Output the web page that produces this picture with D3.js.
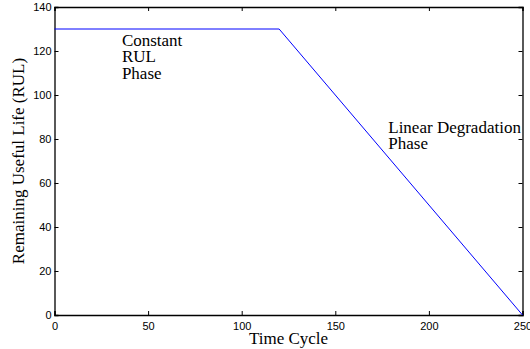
<!DOCTYPE html>
<html>
<head>
<meta charset="utf-8">
<script src="https://cdn.jsdelivr.net/npm/d3@7"></script>
<style>
  body { margin: 0; background: #fff; }
  .tick text { font-family: "Liberation Sans", Arial, sans-serif; font-size: 11px; }
  .lbl { font-family: "Liberation Serif", "Times New Roman", serif; font-size: 17px; fill: #000; }
</style>
</head>
<body>
<div id="chart"></div>
<script>
// piecewise RUL target: constant, then linear degradation
const cycles = [0, 120, 250];
const rulValues = [130, 130, 0];

const xTicks = [0, 50, 100, 150, 200, 250];
const yTicks = [0, 20, 40, 60, 80, 100, 120, 140];

// annotation text, anchored in data coords (cycle, RUL)
const noteConstant = { x: 36, y: [122.4, 115, 107.3], lines: ['Constant', 'RUL', 'Phase'] };
const noteLinear = { x: 178.3, y: [82.7, 75.6], lines: ['Linear Degradation', 'Phase'] };

const W = 530, H = 349;
const margin = { LEFT: 54.5, RIGHT: 7.5, TOP: 7, BOTTOM: 34 };
const WIDTH = W - margin.LEFT - margin.RIGHT;
const HEIGHT = H - margin.TOP - margin.BOTTOM;

const svg = d3.select('#chart').append('svg')
  .attr('width', W)
  .attr('height', H);

const g = svg.append('g')
  .attr('transform', `translate(${margin.LEFT}, ${margin.TOP})`);

const x = d3.scaleLinear().domain([0, 250]).range([0, WIDTH]);
const y = d3.scaleLinear().domain([0, 140]).range([HEIGHT, 0]);

// matlab style: ticks point inward, mirrored on top/right
const xAxis = g.append('g').attr('transform', `translate(0, ${HEIGHT})`)
  .call(d3.axisBottom(x).tickValues(xTicks).tickSize(-4).tickPadding(7));
const yAxis = g.append('g')
  .call(d3.axisLeft(y).tickValues(yTicks).tickSize(-4).tickPadding(3));
g.append('g')
  .call(d3.axisTop(x).tickValues(xTicks).tickSize(-4).tickFormat(''));
g.append('g').attr('transform', `translate(${WIDTH}, 0)`)
  .call(d3.axisRight(y).tickValues(yTicks).tickSize(-4).tickFormat(''));

g.selectAll('.domain').attr('stroke', '#000').attr('stroke-width', 1.3);
g.selectAll('.tick line').attr('stroke', '#000');
g.selectAll('.tick text').attr('fill', '#000');

const line = d3.line()
  .x((d, i) => x(cycles[i]))
  .y(d => y(d));

g.append('path')
  .attr('d', line(rulValues))
  .attr('fill', 'none')
  .attr('stroke', '#0000ff')
  .attr('stroke-width', 1);

[noteConstant, noteLinear].forEach(n => {
  n.lines.forEach((t, i) => {
    g.append('text')
      .attr('class', 'lbl')
      .attr('x', x(n.x))
      .attr('y', y(n.y[i]))
      .text(t);
  });
});

// axis labels
svg.append('text')
  .attr('class', 'lbl')
  .attr('text-anchor', 'middle')
  .attr('x', margin.LEFT + WIDTH / 2)
  .attr('y', 344)
  .text('Time Cycle');

svg.append('text')
  .attr('class', 'lbl')
  .attr('text-anchor', 'middle')
  .attr('transform', `translate(24, ${margin.TOP + HEIGHT / 2}) rotate(-90)`)
  .text('Remaining Useful Life (RUL)');
</script>
</body>
</html>
